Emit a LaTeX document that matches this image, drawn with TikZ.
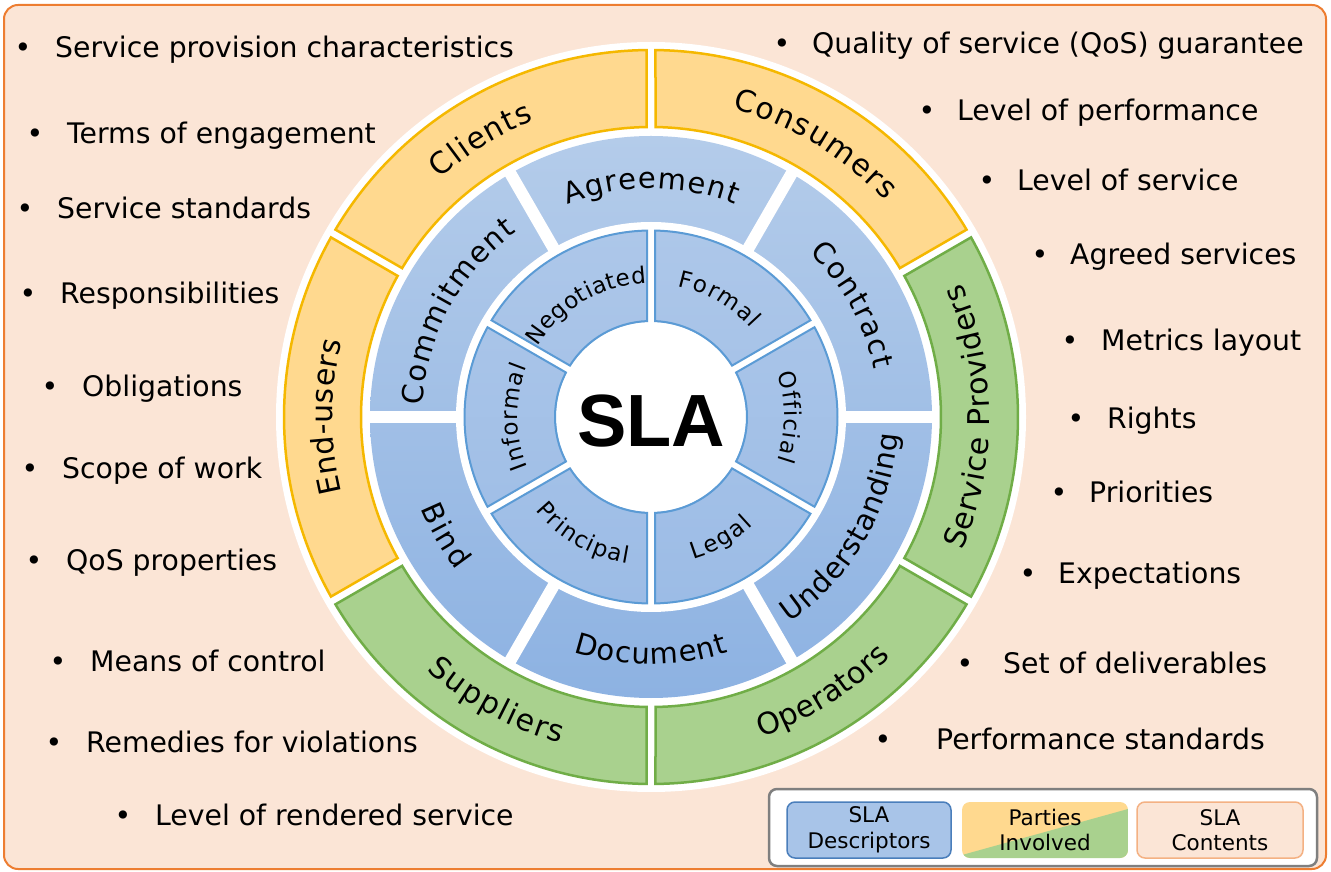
\documentclass[tikz,border=0pt]{standalone}
\usepackage{fontspec}
\setmainfont{DejaVu Sans}
\newfontfamily\slafont{Liberation Sans}
\usetikzlibrary{decorations.text}
\definecolor{bgpeach}{HTML}{FBE5D6}
\definecolor{bgborder}{HTML}{ED7D31}
\definecolor{yelfill}{HTML}{FFD98F}
\definecolor{yelline}{HTML}{F5B800}
\definecolor{grnfill}{HTML}{A9D18E}
\definecolor{grnline}{HTML}{70AD47}
\definecolor{bluetop}{HTML}{B4CCEA}
\definecolor{bluebot}{HTML}{8DB2E2}
\definecolor{intop}{HTML}{ADC7E9}
\definecolor{inbot}{HTML}{9CBCE6}
\definecolor{inline}{HTML}{5B9BD5}
\definecolor{legline}{HTML}{7F7F7F}
\definecolor{contline}{HTML}{F4B183}
\definecolor{descline}{HTML}{4A7EBB}
\newcommand{\listfont}{\fontsize{28.3}{34}\selectfont}
\newcommand{\partyfont}{\fontsize{30}{36}\selectfont}
\newcommand{\descfont}{\fontsize{29}{35}\selectfont}
\newcommand{\innerfont}{\fontsize{23}{28}\selectfont}
\newcommand{\legfont}{\fontsize{21.5}{25.5}\selectfont}
% label on an arc: centre angle, angular span, baseline radius, font, text
\newcommand{\lblcw}[5]{\pgfmathsetmacro{\lblsa}{#1+#2/2}\pgfmathsetmacro{\lblea}{#1-#2/2}%
  \path[decorate,decoration={text along path,text align={fit to path},text={|#4|#5}}] (\lblsa:#3pt) arc[start angle=\lblsa,end angle=\lblea,radius=#3pt];}
\newcommand{\lblccw}[5]{\pgfmathsetmacro{\lblsa}{#1-#2/2}\pgfmathsetmacro{\lblea}{#1+#2/2}%
  \path[decorate,decoration={text along path,text align={fit to path},text={|#4|#5}}] (\lblsa:#3pt) arc[start angle=\lblsa,end angle=\lblea,radius=#3pt];}
\tikzset{
  listtext/.style={font=\listfont, inner sep=0pt, text=black},
  legbox/.style={font=\legfont, align=center, rounded corners=8, line width=1.5, minimum height=56, inner sep=0pt},
}
\begin{document}
\begin{tikzpicture}[x=1pt,y=1pt]
\useasboundingbox (0,0) rectangle (1331,871);
\draw[bgborder, line width=2, fill=bgpeach, rounded corners=14] (4,2) rectangle (1326,866);
\begin{scope}[shift={(651,454)}]
  \fill[white] (0,0) circle[radius=375pt];
  % parties ring
  \pgfmathsetmacro{\pgi}{asin(4.5/290)}
  \pgfmathsetmacro{\pgo}{asin(4.5/367)}
  \foreach \a/\b/\f/\l in {90/150/yelfill/yelline, 30/90/yelfill/yelline, -30/30/grnfill/grnline, -90/-30/grnfill/grnline, 210/270/grnfill/grnline, 150/210/yelfill/yelline}{
    \draw[draw=\l, fill=\f, line width=2.5] (\a+\pgi:290pt) -- (\a+\pgo:367pt) arc[start angle=\a+\pgo, end angle=\b-\pgo, radius=367pt] -- (\b-\pgi:290pt) arc[start angle=\b-\pgi, end angle=\a+\pgi, radius=290pt] -- cycle;
  }
  % descriptors ring
  \shade[top color=bluetop, bottom color=bluebot] (0,0) circle[radius=281pt];
  \fill[white] (0,0) circle[radius=195pt];
  \foreach \a in {0,60,...,300}{\draw[white, line width=12] (0,0) -- (\a:284pt);}
  % inner ring
  \shade[top color=intop, bottom color=inbot] (0,0) circle[radius=187pt];
  \fill[white] (0,0) circle[radius=95pt];
  \foreach \a in {30,90,...,330}{\draw[white, line width=8] (0,0) -- (\a:190pt);}
  \pgfmathsetmacro{\qi}{asin(4/96)}
  \pgfmathsetmacro{\qo}{asin(4/186.5)}
  \foreach \a in {-30,30,90,150,210,270}{
    \draw[inline, line width=2] (\a+\qi:96pt) -- (\a+\qo:186.5pt) arc[start angle=\a+\qo, end angle=\a+60-\qo, radius=186.5pt] -- (\a+60-\qi:96pt) arc[start angle=\a+60-\qi, end angle=\a+\qi, radius=96pt] -- cycle;
  }
  \node[font={\slafont\bfseries\fontsize{74}{80}\selectfont}, inner sep=0pt] (sla) at (0,-4) {SLA};
  % party labels
  \lblcw{121.5}{20}{318.5}{\partyfont}{Clients}
  \lblcw{59}{32.5}{318.5}{\partyfont}{Consumers}
  \lblccw{0}{46.5}{338.5}{\partyfont}{Service Providers}
  \lblccw{-58}{26}{338.5}{\partyfont}{Operators}
  \lblccw{241.5}{26}{338.5}{\partyfont}{Suppliers}
  \lblcw{180}{27.5}{318.5}{\partyfont}{End-users}
  % descriptor labels
  \lblcw{90}{43}{228.5}{\descfont}{Agreement}
  \lblcw{29}{34}{228.5}{\descfont}{Contract}
  \lblccw{-30}{52}{247.5}{\descfont}{Understanding}
  \lblccw{270}{36.5}{247.5}{\descfont}{Document}
  \lblccw{210}{16.5}{247.5}{\descfont}{Bind}
  \lblcw{151.5}{51}{228.5}{\descfont}{Commitment}
  % inner labels
  \lblcw{120}{56}{133.5}{\innerfont}{Negotiated}
  \lblcw{60}{37}{133.5}{\innerfont}{Formal}
  \lblcw{0}{38}{133.5}{\innerfont}{Official}
  \lblccw{-60}{27}{148.5}{\innerfont}{Legal}
  \lblccw{240}{42}{148.5}{\innerfont}{Principal}
  \lblcw{180}{44}{133.5}{\innerfont}{Informal}
\end{scope}
% left list
\foreach \i/\tx/\by/\txt in {1/55/58/Service provision characteristics, 2/67/144/Terms of engagement, 3/57/219/Service standards, 4/60/304/Responsibilities, 5/82/397/Obligations, 6/62/479/Scope of work, 7/66/571/QoS properties, 8/90/671/Means of control, 9/86/752/Remedies for violations, 10/155/825/Level of rendered service}{
  \node[listtext, anchor=base west] (L\i) at (\tx, 871-\by) {\txt};
  \node[listtext, anchor=base] (LB\i) at (\tx-32, 871-\by) {•};
}
% right list
\foreach \i/\tx/\bx/\by/\txt in {1/812/782/54/Quality of service (QoS) guarantee, 2/957/927/121/Level of performance, 3/1017/987/191/Level of service, 4/1070/1040/265/Agreed services, 5/1101/1070/351/Metrics layout, 6/1107/1076/429/Rights, 7/1089/1059/503/Priorities, 8/1058/1028/584/Expectations, 9/1003/965/673/Set of deliverables, 10/936/883/749/Performance standards}{
  \node[listtext, anchor=base west] (R\i) at (\tx, 871-\by) {\txt};
  \node[listtext, anchor=base] (RB\i) at (\bx, 871-\by) {•};
}
% legend
\node[draw=legline, line width=2.5, fill=white, rounded corners=8, minimum width=548, minimum height=77, inner sep=0pt] (legend) at (1043,43.5) {};
\node[legbox, draw=descline, fill=bluetop!70!bluebot, minimum width=164] (lg1) at (869,41) {SLA\\Descriptors};
\begin{scope}
  \clip[rounded corners=8] (962,13) rectangle (1128,69);
  \fill[yelfill] (962,13) rectangle (1128,69);
  \fill[grnfill] (962,13) -- (962,16) -- (1128,62) -- (1128,13) -- cycle;
\end{scope}
\node[legbox, minimum width=166] (lg2) at (1045,41) {Parties\\Involved};
\node[legbox, draw=contline, fill=bgpeach, minimum width=166] (lg3) at (1220,41) {SLA\\Contents};
\end{tikzpicture}
\end{document}
